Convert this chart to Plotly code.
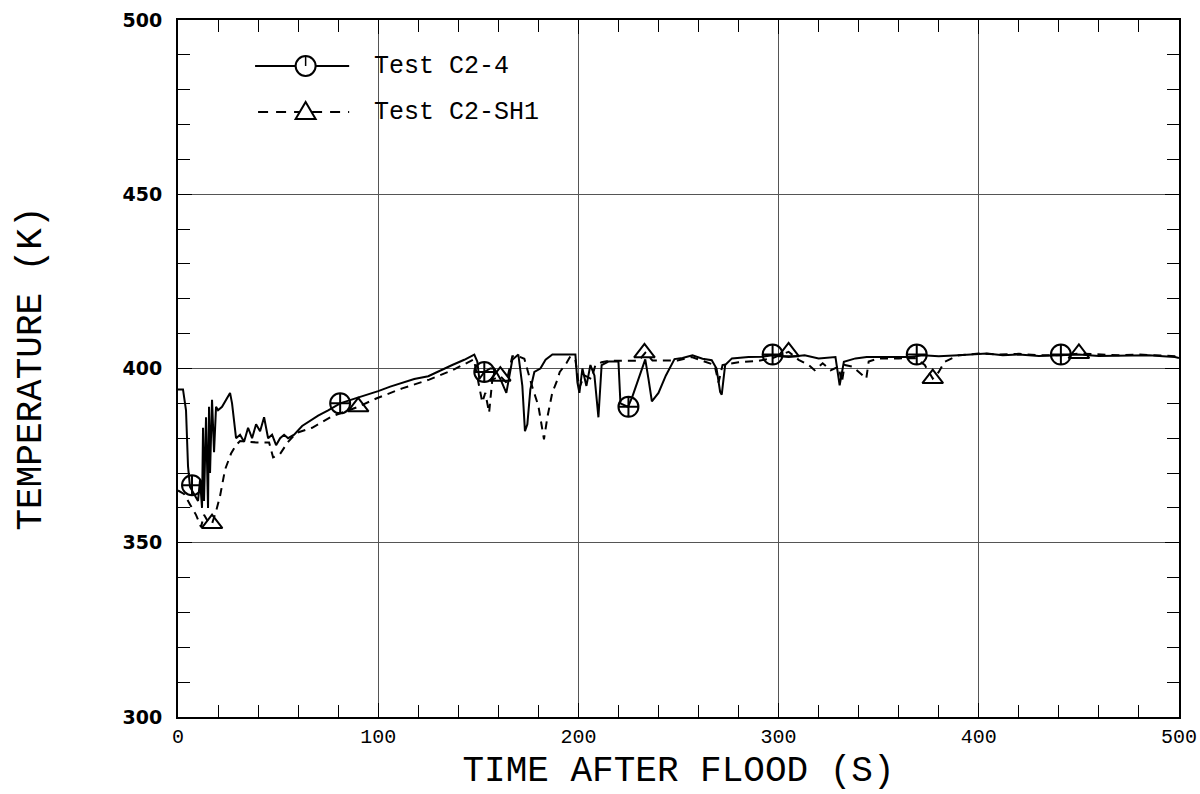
import plotly.graph_objects as go

# ---------------- data ----------------
c24_t = [0, 2.5, 4, 5, 6, 8, 10, 11, 12, 12.5, 13, 14, 15, 15.5, 16, 17, 18, 19, 20, 22, 24, 26, 27, 28, 29,
         31, 33, 35, 37, 39, 41, 43, 45, 47, 49, 51, 53, 55, 58, 62, 66, 70, 75, 81, 89, 95, 100, 106, 112,
         118, 125, 131, 137, 143, 148, 149.5, 150.5, 153, 156, 158, 161, 164, 166, 167, 170, 172, 173.3,
         174.5, 176, 178, 181, 183.6, 187, 193, 198.5, 199.5, 200.5, 202, 204, 206, 208, 210, 211.6, 215,
         220, 221, 224.8, 227, 230.5, 233.4, 235, 236.7, 240, 243.7, 248, 252, 257, 262, 266.6, 269, 270.8,
         271.6, 273.3, 276.7, 285, 291.6, 297, 305, 313, 320, 328.4, 330.5, 332.6, 338.4, 344, 350, 358,
         366, 372, 380, 390, 398, 404, 412, 420, 430, 441, 450, 460, 474, 485, 492, 498, 500]
c24_T = [394, 394, 388, 372, 366, 364, 362, 368, 360, 383, 362, 386, 360, 389, 370, 391, 376, 389, 388, 389,
         391, 393, 390, 384, 380, 381, 379, 383, 380, 384, 382, 386, 380, 381, 378, 380, 381, 380, 381, 383.5,
         385, 386.5, 388, 390, 391.5, 392.5, 393.5, 394.8, 396, 397, 397.8, 399.5, 401, 402.5, 404, 402, 397,
         399, 400, 400, 397, 393, 400, 402.5, 404, 395, 382, 384, 394, 399, 400, 402.5, 404, 404, 404, 396,
         393, 400, 395, 401, 398, 386, 401, 402, 402, 390, 389, 392, 398, 402.6, 397, 390.6, 393, 398, 402.7,
         403, 403.8, 402.8, 402.4, 400, 393.3, 392.5, 401, 402.9, 403.3, 403.4, 403.8, 403.3, 403.8, 402.9,
         403.3, 395.2, 401.9, 402.9, 403.3, 403.3, 403.5, 403.3, 403.8, 403.5, 403.8, 404, 404.3, 403.8, 404,
         403.6, 403.8, 404, 403.6, 403.8, 403.8, 403.5, 403.3, 403]

sh1_t = [0, 3, 6, 9, 11.5, 13, 15, 17, 19, 21, 23.5, 26.5, 29, 31, 35, 39, 45.5, 47.5, 51, 54.8, 59, 67, 77,
         83, 90, 99, 112, 125.5, 137, 147.8, 150, 152, 153.5, 155.4, 157, 161, 164, 167, 170, 173, 176.8,
         180, 182.8, 184.5, 187, 189, 190.7, 194, 196, 198.5, 200.4, 203, 206.5, 208.5, 211.6, 215, 223.4,
         230, 233.4, 237, 249.5, 256.6, 262, 268, 270, 272, 280, 290, 297, 305, 310, 315, 318, 322, 326, 330,
         331.6, 333, 337, 343.8, 345, 350, 360, 368, 373, 377, 380, 382.8, 390, 400, 410, 420, 430, 441, 450,
         460, 470, 480, 490, 500]
sh1_T = [365, 364, 361, 358, 354.5, 358, 356, 355.5, 359, 363.4, 371, 375.6, 378, 379.2, 379, 378.8, 378.8,
         374.5, 375.5, 378.8, 381.5, 383, 386.3, 387.5, 389, 391.4, 394.3, 396.8, 399.5, 402.6, 396, 390.3,
         393, 387.3, 396.8, 397.8, 396, 403.5, 403.5, 402.8, 395, 389.3, 379.7, 386, 393.2, 396, 399, 401.5,
         403.5, 402.5, 394.4, 398, 397, 401, 401.8, 402.2, 402.2, 402.2, 404.5, 402.3, 402.3, 403.3, 402.2,
         401, 396, 401, 401.8, 402.2, 403, 404.8, 402.5, 401, 399.5, 401.5, 399.5, 400.5, 396, 401, 400.5,
         397.1, 402, 402.9, 402.9, 403, 401, 397.1, 399, 401.9, 403.8, 404.3, 404, 404.2, 403.8, 403.8, 404.3,
         404, 403.8, 404, 403.8, 403.5]

c24_mark_t = [7, 81, 153, 225, 297, 369, 441]
c24_mark_T = [366.5, 390, 399, 389, 404, 404, 404]
sh1_mark_t = [17, 90, 161, 233, 305, 377, 450]
sh1_mark_T = [355.5, 389, 397.8, 404.5, 404.8, 397.1, 404.3]

series_names = ["Test C2-4", "Test C2-SH1"]
x_title = "TIME AFTER FLOOD (S)"
y_title = "TEMPERATURE (K)"

# ---------------- figure ----------------
fig = go.Figure()
fig.add_trace(go.Scatter(x=c24_t, y=c24_T, mode="lines", name=series_names[0],
                         line=dict(color="black", width=2), showlegend=False))
fig.add_trace(go.Scatter(x=sh1_t, y=sh1_T, mode="lines", name=series_names[1],
                         line=dict(color="black", width=2, dash="8px,6px"), showlegend=False))
fig.add_trace(go.Scatter(x=c24_mark_t, y=c24_mark_T, mode="markers", showlegend=False,
                         marker=dict(symbol="circle-cross-open", size=20, color="black",
                                     line=dict(width=2, color="black"))))
fig.add_trace(go.Scatter(x=sh1_mark_t, y=sh1_mark_T, mode="markers", showlegend=False,
                         marker=dict(symbol="triangle-up-open", size=18, color="black",
                                     line=dict(width=2, color="black"))))

# manual legend (paper coordinates)
leg_rows = [0.934, 0.868]
shapes = []
shapes.append(dict(type="line", xref="paper", yref="paper", x0=0.077, x1=0.171, y0=leg_rows[0], y1=leg_rows[0],
                   line=dict(color="black", width=2)))
shapes.append(dict(type="circle", xref="paper", yref="paper", xsizemode="pixel", ysizemode="pixel",
                   xanchor=0.1275, yanchor=leg_rows[0], x0=-10, x1=10, y0=-10, y1=10,
                   fillcolor="white", line=dict(color="black", width=2)))
shapes.append(dict(type="line", xref="paper", yref="paper", xsizemode="pixel", ysizemode="pixel",
                   xanchor=0.1275, yanchor=leg_rows[0], x0=0, x1=0, y0=10, y1=0,
                   line=dict(color="black", width=1.5)))
shapes.append(dict(type="line", xref="paper", yref="paper", x0=0.08, x1=0.171, y0=leg_rows[1], y1=leg_rows[1],
                   line=dict(color="black", width=2, dash="10px,8px")))
shapes.append(dict(type="path", xref="paper", yref="paper", xsizemode="pixel", ysizemode="pixel",
                   xanchor=0.1275, yanchor=leg_rows[1], path="M -10,-7 L 10,-7 L 0,10 Z",
                   fillcolor="white", line=dict(color="black", width=2)))

annotations = []
for name, yy in zip(series_names, leg_rows):
    annotations.append(dict(xref="paper", yref="paper", x=0.194, y=yy, text=name, showarrow=False,
                            xanchor="left", yanchor="middle",
                            font=dict(family="Liberation Mono", size=25, color="black")))

fig.update_layout(
    width=1200, height=794,
    margin=dict(l=178, r=21, t=20, b=77, autoexpand=False),
    plot_bgcolor="white", paper_bgcolor="white",
    shapes=shapes, annotations=annotations,
    showlegend=False,
)
fig.update_xaxes(
    range=[0, 500], dtick=100, tick0=0, automargin=False,
    showline=True, linewidth=2, linecolor="black", mirror="allticks",
    ticks="inside", ticklen=14, tickwidth=1, tickcolor="black",
    minor=dict(dtick=20, ticks="inside", ticklen=12, tickwidth=1, tickcolor="black", showgrid=False),
    showgrid=True, gridcolor="#555", gridwidth=1, zeroline=False,
    tickfont=dict(family="Liberation Mono", size=20, color="black"),
    ticklabeloverflow="allow",
    title=dict(text=x_title, font=dict(family="Liberation Mono", size=36, color="black"), standoff=8),
)
fig.update_yaxes(
    range=[300, 500], dtick=50, tick0=300, automargin=False,
    showline=True, linewidth=2, linecolor="black", mirror="allticks",
    ticks="inside", ticklen=14, tickwidth=1, tickcolor="black",
    minor=dict(dtick=10, ticks="inside", ticklen=12, tickwidth=1, tickcolor="black", showgrid=False),
    showgrid=True, gridcolor="#555", gridwidth=1, zeroline=False,
    tickfont=dict(family="DejaVu Sans", size=19, color="black", weight="bold"),
    ticklabelstandoff=10, ticklabeloverflow="allow",
    title=dict(text=y_title, font=dict(family="Liberation Mono", size=36, color="black"), standoff=70),
)

fig.write_html("out.html")
